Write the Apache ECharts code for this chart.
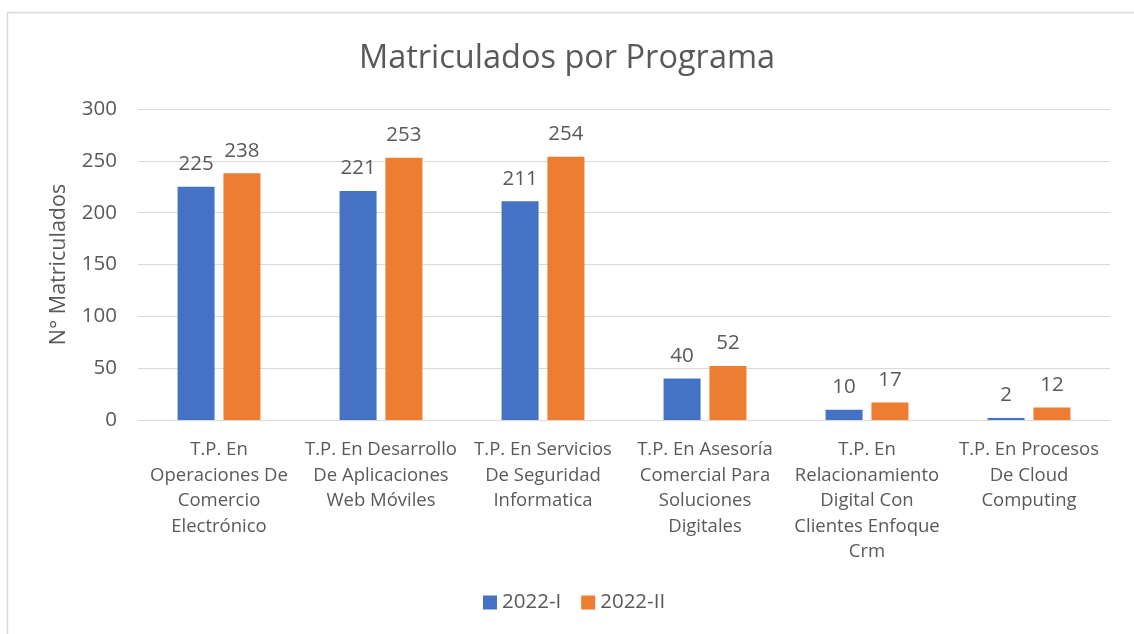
<!DOCTYPE html>
<html><head><meta charset="utf-8">
<script src="https://cdn.jsdelivr.net/npm/echarts@6/dist/echarts.min.js"></script>
<style>html,body{margin:0;padding:0;background:#fff}#c{width:1134px;height:634px}</style>
</head><body><div id="c"></div>
<script>
const categories = [
  "T.P. En\nOperaciones De\nComercio\nElectrónico",
  "T.P. En Desarrollo\nDe Aplicaciones\nWeb Móviles",
  "T.P. En Servicios\nDe Seguridad\nInformatica",
  "T.P. En Asesoría\nComercial Para\nSoluciones\nDigitales",
  "T.P. En\nRelacionamiento\nDigital Con\nClientes Enfoque\nCrm",
  "T.P. En Procesos\nDe Cloud\nComputing"
];
const series2022I = [225, 221, 211, 40, 10, 2];
const series2022II = [238, 253, 254, 52, 17, 12];
const yTicks = { min: 0, max: 300, interval: 50 };

const FONT = '"Open Sans", "Liberation Sans", sans-serif';
const TXT = '#595959';
const chart = echarts.init(document.getElementById('c'), null, {renderer: 'canvas'});
chart.setOption({
  animation: false,
  backgroundColor: '#fff',
  textStyle: { fontFamily: FONT },
  graphic: [{
    type: 'rect', left: 5, top: 10, silent: true,
    shape: { width: 1140, height: 700 },
    style: { fill: 'none', stroke: '#d9d9d9', lineWidth: 1.5 }
  }],
  title: {
    text: 'Matriculados por Programa', left: 'center', top: 37,
    textStyle: { fontFamily: FONT, fontSize: 32.5, fontWeight: 'normal', color: TXT }
  },
  legend: {
    bottom: 16, left: 478, itemWidth: 14, itemHeight: 14, itemGap: 20,
    icon: 'rect',
    textStyle: { fontFamily: FONT, fontSize: 20.5, color: TXT }
  },
  grid: { left: 138, right: 24, top: 109, bottom: 214 },
  xAxis: {
    type: 'category', data: categories,
    axisLine: { lineStyle: { color: '#d9d9d9' } },
    axisTick: { show: false },
    axisLabel: { interval: 0, color: TXT, fontFamily: FONT, fontSize: 18.5, lineHeight: 25.5, margin: 17 }
  },
  yAxis: {
    type: 'value', min: yTicks.min, max: yTicks.max, interval: yTicks.interval,
    name: 'N° Matriculados', nameLocation: 'middle', nameGap: 68, nameRotate: 90,
    nameTextStyle: { fontFamily: FONT, fontSize: 21.5, color: TXT },
    axisLine: { show: false }, axisTick: { show: false },
    axisLabel: { color: TXT, fontFamily: FONT, fontSize: 20.5, margin: 21 },
    splitLine: { lineStyle: { color: '#d9d9d9', width: 1 } }
  },
  series: [
    { name: '2022-I', type: 'bar', data: series2022I, barWidth: 37, barGap: '24%',
      itemStyle: { color: '#4472C4' },
      label: { show: true, position: 'top', distance: 12, color: TXT, fontFamily: FONT, fontSize: 20.5 } },
    { name: '2022-II', type: 'bar', data: series2022II, barWidth: 37, barGap: '24%',
      itemStyle: { color: '#ED7D31' },
      label: { show: true, position: 'top', distance: 12, color: TXT, fontFamily: FONT, fontSize: 20.5 } }
  ]
});
</script></body></html>
